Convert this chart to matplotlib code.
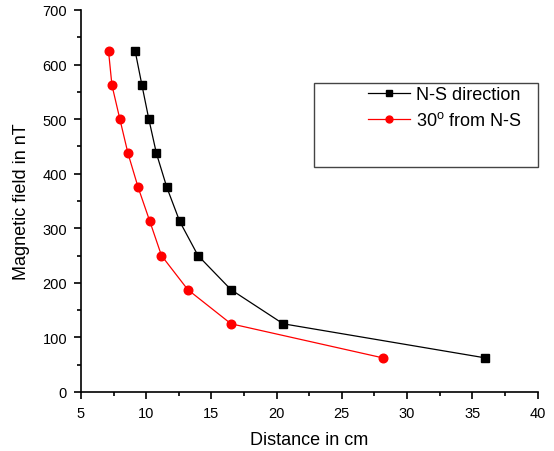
import matplotlib
matplotlib.use("Agg")
import matplotlib.pyplot as plt
from matplotlib.patches import Rectangle
from matplotlib.ticker import MultipleLocator

plt.rcParams['font.family'] = ['Liberation Sans', 'DejaVu Sans']
plt.rcParams['mathtext.fontset'] = 'custom'
plt.rcParams['mathtext.rm'] = 'Liberation Sans'

field = [625, 562.5, 500, 437.5, 375, 312.5, 250, 187.5, 125, 62.5]
dist_ns = [9.15, 9.67, 10.2, 10.78, 11.58, 12.57, 13.97, 16.5, 20.5, 36.0]
dist_30 = [7.11, 7.37, 7.98, 8.6, 9.38, 10.28, 11.17, 13.19, 16.5, 28.15]

W, H = 554, 452
fig = plt.figure(figsize=(W / 100, H / 100), dpi=100)
ax = fig.add_axes([81 / W, (H - 393) / H, (537.5 - 81) / W, (393 - 11) / H])

ax.plot(dist_ns, field, color='black', lw=0.9, marker='s', ms=5.6,
        label='N-S direction')
ax.plot(dist_30, field, color='red', lw=0.9, marker='o', ms=6.2,
        label='30$^{\\mathrm{o}}$ from N-S')

ax.set_xlim(5, 40)
ax.set_ylim(0, 700)
ax.xaxis.set_major_locator(MultipleLocator(5))
ax.xaxis.set_minor_locator(MultipleLocator(2.5))
ax.yaxis.set_major_locator(MultipleLocator(100))
ax.yaxis.set_minor_locator(MultipleLocator(50))
ax.spines['top'].set_visible(False)
ax.spines['right'].set_visible(False)
for s in ('left', 'bottom'):
    ax.spines[s].set_linewidth(1.2)
ax.tick_params(which='major', direction='out', length=5, width=1.2,
               labelsize=10.5, pad=5)
ax.tick_params(which='minor', direction='out', length=3, width=1.2)

ax.set_xlabel('Distance in cm', fontsize=13, labelpad=8)
ax.set_ylabel('Magnetic field in nT', fontsize=13, labelpad=9)

# legend frame box (pixel coords, top-left origin)
x0, x1 = 314 / W, 537.5 / W
y0, y1 = (H - 168) / H, (H - 84) / H
fig.patches.append(Rectangle((x0, y0), x1 - x0, y1 - y0, transform=fig.transFigure,
                             fill=False, edgecolor='#444444', lw=1))

leg = ax.legend(loc='upper left', bbox_to_anchor=(368 / W, (H - 87) / H),
                bbox_transform=fig.transFigure, frameon=False, fontsize=13,
                handlelength=2.3, handletextpad=0.35, borderpad=0,
                labelspacing=0.45, borderaxespad=0, markerscale=0.8)

fig.savefig('out.png', dpi=100)
